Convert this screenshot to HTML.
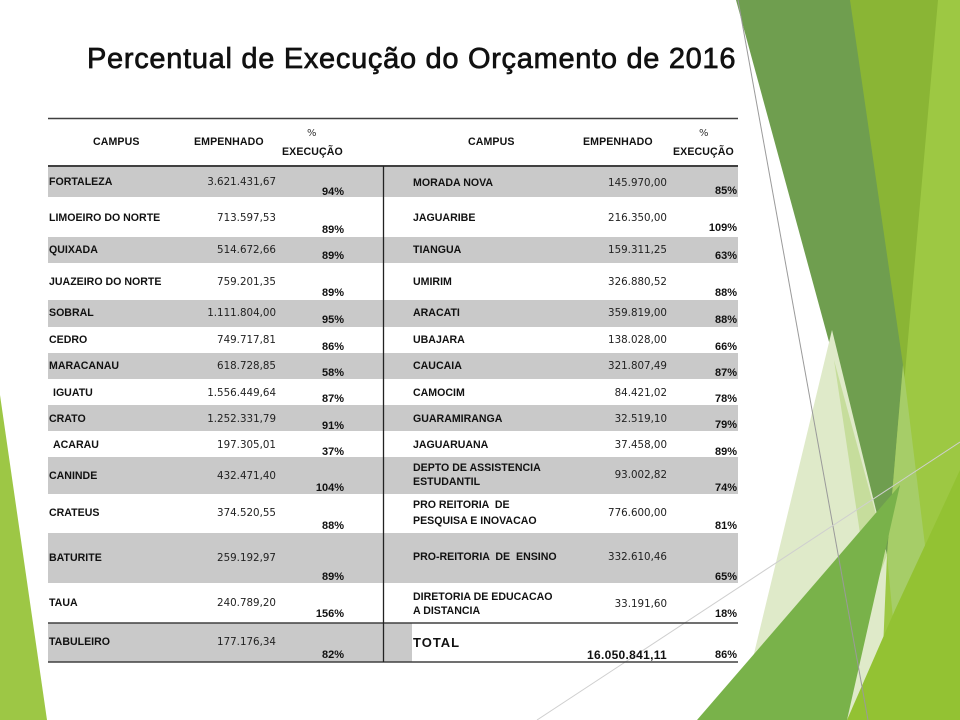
<!DOCTYPE html>
<html><head><meta charset="utf-8">
<style>
html,body{margin:0;padding:0;background:#fff;}
#c{position:relative;width:960px;height:720px;overflow:hidden;background:#fff;}
svg{position:absolute;left:0;top:0;}
.t{position:absolute;line-height:12px;white-space:pre;}
.n{font:bold 10.6px "Liberation Sans",sans-serif;color:#111;}
.v{font:10.3px "DejaVu Sans",sans-serif;color:#222;}
.p{font:bold 11px "Liberation Sans",sans-serif;color:#111;}
.h{font:bold 10.6px "Liberation Sans",sans-serif;color:#111;letter-spacing:0.1px;}
.hp{font:10px "DejaVu Sans",sans-serif;color:#333;}
.L{left:49px}.R{left:413px}.lv{right:684px}.rv{right:293px}.lp{right:616px}.rp{right:223px}
#title{position:absolute;left:87px;top:42px;font:29px "Liberation Sans",sans-serif;line-height:34px;letter-spacing:0.7px;color:#111;-webkit-text-stroke:0.7px #111;white-space:pre;}
</style></head><body><div id="c">
<svg width="960" height="720" viewBox="0 0 960 720">
<polygon points="936,0 960,0 960,720 860,720" fill="#9dc843"/>
<polygon points="848,0 938,0 900,430" fill="#8ab535"/>
<polygon points="736,0 850,0 903,365 887,555" fill="#6f9e4f"/>
<polygon points="903,365 928,570 895,640 887,555" fill="#a6cd68"/>
<polygon points="832,330 738,720 880,720 887,555" fill="#dfeac9"/>
<polygon points="834,360 887,555 870,600" fill="#c6dd9c"/>
<polygon points="697,720 900,485 847,720" fill="#79b24a"/>
<polygon points="847,720 895,610 960,470 960,720" fill="#93c233"/>
<polygon points="0,395 47,720 0,720" fill="#9dc745"/>
<line x1="738" y1="0" x2="868" y2="720" stroke="#9a9a9a" stroke-width="1"/>
<g fill="#c9c9c9">
<rect x="48" y="166" width="335" height="31"/>
<rect x="48" y="237" width="335" height="26"/>
<rect x="48" y="300" width="335" height="27"/>
<rect x="48" y="353" width="335" height="26"/>
<rect x="48" y="405" width="335" height="26"/>
<rect x="48" y="457" width="335" height="37"/>
<rect x="48" y="533" width="335" height="50"/>
<rect x="48" y="623" width="335" height="39"/>
<rect x="384" y="166" width="354" height="31"/>
<rect x="384" y="237" width="354" height="26"/>
<rect x="384" y="300" width="354" height="27"/>
<rect x="384" y="353" width="354" height="26"/>
<rect x="384" y="405" width="354" height="26"/>
<rect x="384" y="457" width="354" height="37"/>
<rect x="384" y="533" width="354" height="50"/>
<rect x="384" y="623" width="28" height="39"/>
</g>
<line x1="537" y1="720" x2="960" y2="442" stroke="#cfcfcf" stroke-width="1"/>
<g stroke="#404040">
<line x1="48" y1="118.5" x2="738" y2="118.5" stroke-width="1.5"/>
<line x1="48" y1="166" x2="738" y2="166" stroke-width="2"/>
<line x1="48" y1="623" x2="738" y2="623" stroke-width="1.5"/>
<line x1="48" y1="662" x2="738" y2="662" stroke-width="1.5"/>
<line x1="383.5" y1="166" x2="383.5" y2="662" stroke="#222" stroke-width="1.3"/>
</g>
</svg>

<div id="title">Percentual de Execução do Orçamento de 2016</div>

<div class="t h" style="left:93px;top:136px">CAMPUS</div>
<div class="t h" style="left:194px;top:136px">EMPENHADO</div>
<div class="t hp" style="left:307px;top:128px">%</div>
<div class="t h" style="left:282px;top:146px">EXECUÇÃO</div>
<div class="t h" style="left:468px;top:136px">CAMPUS</div>
<div class="t h" style="left:583px;top:136px">EMPENHADO</div>
<div class="t hp" style="left:699px;top:128px">%</div>
<div class="t h" style="left:673px;top:146px">EXECUÇÃO</div>

<div class="t n L" style="top:176px">FORTALEZA</div><div class="t v lv" style="top:176px">3.621.431,67</div><div class="t p lp" style="top:186px">94%</div>
<div class="t n L" style="top:212px">LIMOEIRO DO NORTE</div><div class="t v lv" style="top:212px">713.597,53</div><div class="t p lp" style="top:224px">89%</div>
<div class="t n L" style="top:244px">QUIXADA</div><div class="t v lv" style="top:244px">514.672,66</div><div class="t p lp" style="top:250px">89%</div>
<div class="t n L" style="top:276px">JUAZEIRO DO NORTE</div><div class="t v lv" style="top:276px">759.201,35</div><div class="t p lp" style="top:287px">89%</div>
<div class="t n L" style="top:307px">SOBRAL</div><div class="t v lv" style="top:307px">1.111.804,00</div><div class="t p lp" style="top:314px">95%</div>
<div class="t n L" style="top:334px">CEDRO</div><div class="t v lv" style="top:334px">749.717,81</div><div class="t p lp" style="top:341px">86%</div>
<div class="t n L" style="top:360px">MARACANAU</div><div class="t v lv" style="top:360px">618.728,85</div><div class="t p lp" style="top:367px">58%</div>
<div class="t n" style="left:53px;top:387px">IGUATU</div><div class="t v lv" style="top:387px">1.556.449,64</div><div class="t p lp" style="top:393px">87%</div>
<div class="t n L" style="top:413px">CRATO</div><div class="t v lv" style="top:413px">1.252.331,79</div><div class="t p lp" style="top:420px">91%</div>
<div class="t n" style="left:53px;top:439px">ACARAU</div><div class="t v lv" style="top:439px">197.305,01</div><div class="t p lp" style="top:446px">37%</div>
<div class="t n L" style="top:470px">CANINDE</div><div class="t v lv" style="top:470px">432.471,40</div><div class="t p lp" style="top:482px">104%</div>
<div class="t n L" style="top:507px">CRATEUS</div><div class="t v lv" style="top:507px">374.520,55</div><div class="t p lp" style="top:520px">88%</div>
<div class="t n L" style="top:552px">BATURITE</div><div class="t v lv" style="top:552px">259.192,97</div><div class="t p lp" style="top:571px">89%</div>
<div class="t n L" style="top:597px">TAUA</div><div class="t v lv" style="top:597px">240.789,20</div><div class="t p lp" style="top:608px">156%</div>
<div class="t n L" style="top:636px">TABULEIRO</div><div class="t v lv" style="top:636px">177.176,34</div><div class="t p lp" style="top:649px">82%</div>

<div class="t n R" style="top:177px">MORADA NOVA</div><div class="t v rv" style="top:177px">145.970,00</div><div class="t p rp" style="top:185px">85%</div>
<div class="t n R" style="top:212px">JAGUARIBE</div><div class="t v rv" style="top:212px">216.350,00</div><div class="t p rp" style="top:222px">109%</div>
<div class="t n R" style="top:244px">TIANGUA</div><div class="t v rv" style="top:244px">159.311,25</div><div class="t p rp" style="top:250px">63%</div>
<div class="t n R" style="top:276px">UMIRIM</div><div class="t v rv" style="top:276px">326.880,52</div><div class="t p rp" style="top:287px">88%</div>
<div class="t n R" style="top:307px">ARACATI</div><div class="t v rv" style="top:307px">359.819,00</div><div class="t p rp" style="top:314px">88%</div>
<div class="t n R" style="top:334px">UBAJARA</div><div class="t v rv" style="top:334px">138.028,00</div><div class="t p rp" style="top:341px">66%</div>
<div class="t n R" style="top:360px">CAUCAIA</div><div class="t v rv" style="top:360px">321.807,49</div><div class="t p rp" style="top:367px">87%</div>
<div class="t n R" style="top:387px">CAMOCIM</div><div class="t v rv" style="top:387px">84.421,02</div><div class="t p rp" style="top:393px">78%</div>
<div class="t n R" style="top:413px">GUARAMIRANGA</div><div class="t v rv" style="top:413px">32.519,10</div><div class="t p rp" style="top:419px">79%</div>
<div class="t n R" style="top:439px">JAGUARUANA</div><div class="t v rv" style="top:439px">37.458,00</div><div class="t p rp" style="top:446px">89%</div>
<div class="t n R" style="top:462px">DEPTO DE ASSISTENCIA</div><div class="t n R" style="top:476px">ESTUDANTIL</div><div class="t v rv" style="top:469px">93.002,82</div><div class="t p rp" style="top:482px">74%</div>
<div class="t n R" style="top:499px">PRO REITORIA  DE</div><div class="t n R" style="top:515px">PESQUISA E INOVACAO</div><div class="t v rv" style="top:507px">776.600,00</div><div class="t p rp" style="top:520px">81%</div>
<div class="t n R" style="top:551px">PRO-REITORIA  DE  ENSINO</div><div class="t v rv" style="top:551px">332.610,46</div><div class="t p rp" style="top:571px">65%</div>
<div class="t n R" style="top:591px">DIRETORIA DE EDUCACAO</div><div class="t n R" style="top:605px">A DISTANCIA</div><div class="t v rv" style="top:598px">33.191,60</div><div class="t p rp" style="top:608px">18%</div>
<div class="t" style="left:413px;top:635px;font:bold 13px 'Liberation Sans',sans-serif;letter-spacing:1px;line-height:16px;color:#111">TOTAL</div>
<div class="t rv" style="top:648px;font:bold 12px 'Liberation Sans',sans-serif;letter-spacing:0.3px;color:#111">16.050.841,11</div>
<div class="t p rp" style="top:649px">86%</div>
</div></body></html>
